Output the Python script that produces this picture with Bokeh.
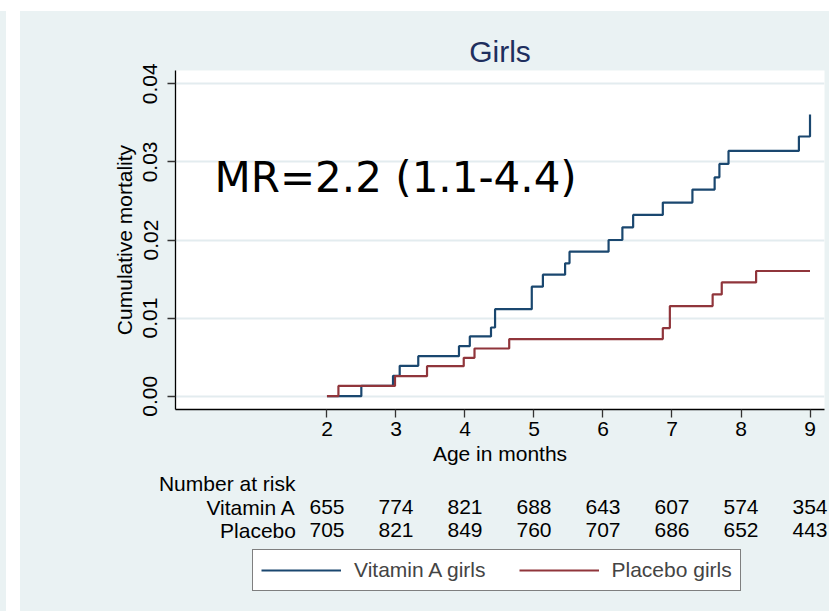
from bokeh.plotting import figure
from bokeh.models import (Range1d, FixedTicker, Label, Legend, LegendItem,
                          Spacer, NumeralTickFormatter)
from bokeh.layouts import column, row
from bokeh.embed import file_html
from bokeh.resources import INLINE
from bokeh.core.properties import value

# ---------------- data ----------------
vit_months = [2.0, 2.498, 2.957, 3.054, 3.323, 3.913, 4.070, 4.377, 4.436, 4.968,
              5.129, 5.451, 5.515, 6.081, 6.281, 6.437, 6.867, 7.296, 7.618, 7.687,
              7.819, 8.839, 9.0]
vit_mort = [0.0, 0.00132, 0.00261, 0.00389, 0.00513, 0.00641, 0.00765, 0.00880,
            0.01115, 0.01402, 0.01556, 0.01701, 0.01850, 0.02000, 0.02162, 0.02321,
            0.02479, 0.02645, 0.02803, 0.02974, 0.03141, 0.03325, 0.03607]
pla_months = [2.0, 2.166, 2.986, 3.450, 3.982, 4.138, 4.641, 6.867, 6.969, 7.589,
              7.721, 8.219, 9.0]
pla_mort = [0.0, 0.00132, 0.00256, 0.00385, 0.00491, 0.00611, 0.00731, 0.00872,
            0.01154, 0.01303, 0.01457, 0.01603, 0.01603]

x_ticks = [2, 3, 4, 5, 6, 7, 8, 9]
y_ticks = [0.0, 0.01, 0.02, 0.03, 0.04]
risk_months = [2, 3, 4, 5, 6, 7, 8, 9]
risk_vitamin_a = [655, 774, 821, 688, 643, 607, 574, 354]
risk_placebo = [705, 821, 849, 760, 707, 686, 652, 443]
series_names = ["Vitamin A girls", "Placebo girls"]
row_names = ["Vitamin A", "Placebo"]
title_text = "Girls"
annot_text = "MR=2.2 (1.1-4.4)"

# ---------------- style ----------------
BG = "#EAF2F3"
NAVY = "#1A476F"
MAROON = "#90353B"
FONT = "Liberation Sans"
FS = "21px"

X0, X1 = -0.195, 9.21
Y0, Y1 = -0.0017, 0.0417
W = 809
LB, RB = 155, 5
FW = W - LB - RB
unit = FW / (X1 - X0)

H1 = 460
p = figure(width=W, height=H1, x_range=Range1d(X0, X1), y_range=Range1d(Y0, Y1),
           output_backend="svg", toolbar_location=None,
           min_border_left=LB, min_border_right=RB, min_border_top=59,
           min_border_bottom=H1 - 59 - 339)
p.frame_align = False
p.background_fill_color = "white"
p.border_fill_color = BG
p.outline_line_color = None

p.title.text = title_text
p.title.align = "center"
p.title.text_font = FONT
p.title.text_font_size = "30px"
p.title.text_font_style = "normal"
p.title.text_color = "#1E2F5E"
p.title.standoff = 5

p.step(vit_months, vit_mort, mode="after", line_color=NAVY, line_width=2.2)
p.step(pla_months, pla_mort, mode="after", line_color=MAROON, line_width=2.2)

p.xgrid.visible = False
p.ygrid.grid_line_color = "#E3ECEF"
p.ygrid.grid_line_width = 2
p.ygrid.ticker = FixedTicker(ticks=y_ticks)

for ax in (p.xaxis[0], p.yaxis[0]):
    ax.axis_line_color = "black"
    ax.axis_line_width = 1.3
    ax.major_tick_in = 0
    ax.major_tick_out = 8
    ax.major_tick_line_color = "#333333"
    ax.major_tick_line_width = 1.3
    ax.minor_tick_in = 0
    ax.minor_tick_out = 0
    ax.major_label_text_font = FONT
    ax.major_label_text_font_size = FS
    ax.major_label_text_color = "black"
    ax.axis_label_text_font = FONT
    ax.axis_label_text_font_size = FS
    ax.axis_label_text_font_style = "normal"
    ax.axis_label_text_color = "black"

p.xaxis.ticker = FixedTicker(ticks=x_ticks)
p.xaxis.axis_label = "Age in months"
p.xaxis.major_label_standoff = 4
p.xaxis.axis_label_standoff = 3

p.yaxis.ticker = FixedTicker(ticks=y_ticks)
p.yaxis.formatter = NumeralTickFormatter(format="0.00")
p.yaxis.major_label_orientation = "vertical"
p.yaxis.axis_label = "Cumulative mortality"
p.yaxis.major_label_standoff = 10
p.yaxis.axis_label_standoff = 5

p.add_layout(Label(x=0.37, y=0.0280, text=annot_text, text_font="DejaVu Sans",
                   text_font_size="42px", text_color="black",
                   text_baseline="alphabetic"))

# ---------------- number at risk + legend ----------------
H2 = 600 - H1
dy = 464 - H1
p2 = figure(width=W, height=H2,
            x_range=Range1d(X0 - LB / unit, X1 + RB / unit), y_range=Range1d(-H2, 0),
            output_backend="svg", toolbar_location=None,
            min_border=0, min_border_left=0, min_border_right=0,
            min_border_top=0, min_border_bottom=0,
            x_axis_location=None, y_axis_location=None)
p2.frame_align = False
p2.background_fill_color = BG
p2.border_fill_color = BG
p2.outline_line_color = None
p2.grid.visible = False

txt = dict(text_font=value(FONT), text_font_size=FS, text_color="black",
           text_baseline="alphabetic")
y_head, y_vit, y_pla = -7.5 - dy, -31.5 - dy, -54.5 - dy
p2.text(x=[-0.435], y=[y_head], text=["Number at risk"], text_align="left", **txt)
p2.text(x=[1.55, 1.55], y=[y_vit, y_pla], text=row_names, text_align="right", **txt)
p2.text(x=risk_months, y=[y_vit] * len(risk_months),
        text=[str(v) for v in risk_vitamin_a], text_align="center", **txt)
p2.text(x=risk_months, y=[y_pla] * len(risk_months),
        text=[str(v) for v in risk_placebo], text_align="center", **txt)

nan = float("nan")
r1 = p2.line([nan], [nan], line_color=NAVY, line_width=2)
r2 = p2.line([nan], [nan], line_color=MAROON, line_width=2)
legend = Legend(items=[LegendItem(label=series_names[0], renderers=[r1]),
                       LegendItem(label=series_names[1], renderers=[r2])],
                orientation="horizontal", location=(232, 20),
                border_line_color="black", border_line_width=1,
                background_fill_color="white", background_fill_alpha=1.0,
                label_text_font=FONT, label_text_font_size=FS,
                glyph_width=80, glyph_height=24, label_height=24,
                label_standoff=13, spacing=33, padding=8, margin=0)
p2.add_layout(legend, "center")

top = Spacer(width=829, height=11)
strip = Spacer(width=6, height=600, styles={"background-color": BG})
gap = Spacer(width=14, height=600)
charts = column(p, p2, styles={"background-color": BG})
layout = column(top, row(strip, gap, charts))

open("out.html", "w").write(file_html(layout, INLINE))
